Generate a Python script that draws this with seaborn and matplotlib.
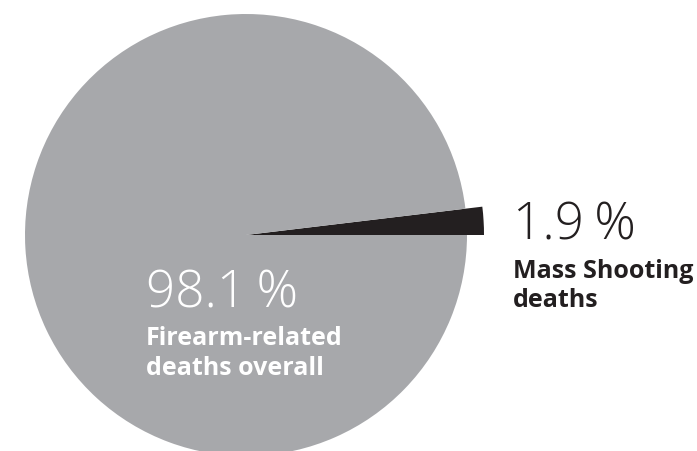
import matplotlib.pyplot as plt
import seaborn as sns

sns.set_theme(style="white")
plt.rcParams['font.family'] = ['Open Sans', 'DejaVu Sans']

# data
labels = ["Mass Shooting deaths", "Firearm-related deaths overall"]
shares = [1.9, 98.1]
colors = ["#231f20", "#a7a8ab"]
big_label = ["Firearm-related", "deaths overall"]
small_label = ["Mass Shooting", "deaths"]

W, H = 697, 452
fig = plt.figure(figsize=(W / 100, H / 100), dpi=100)
ax = fig.add_axes([0, 0, 1, 1])

cx, cy = 246, H - 236
wedges, _ = ax.pie(shares, colors=colors, startangle=0, counterclock=True,
                   radius=221, center=(cx, cy), frame=True,
                   wedgeprops=dict(linewidth=0))
ax.set_xlim(0, W)
ax.set_ylim(0, H)
ax.set_aspect('equal')
ax.axis('off')
# the small slice sticks out past the rim
wedges[0].set_radius(238)

def label(x, y_pct, y_lines, pct, lines, color, gap):
    ax.text(x, H - y_pct, f"{pct}\u2009%", color=color, fontsize=37,
            fontweight="light", va="baseline", ha="left")
    for i, line in enumerate(lines):
        ax.text(x, H - y_lines - i * gap, line, color=color, fontsize=18,
                fontweight="bold", va="baseline", ha="left")

label(146, 307, 345, shares[1], big_label, "white", 30)
label(513, 240, 278, shares[0], small_label, "#231f20", 29)

fig.savefig("out.png", dpi=100)
